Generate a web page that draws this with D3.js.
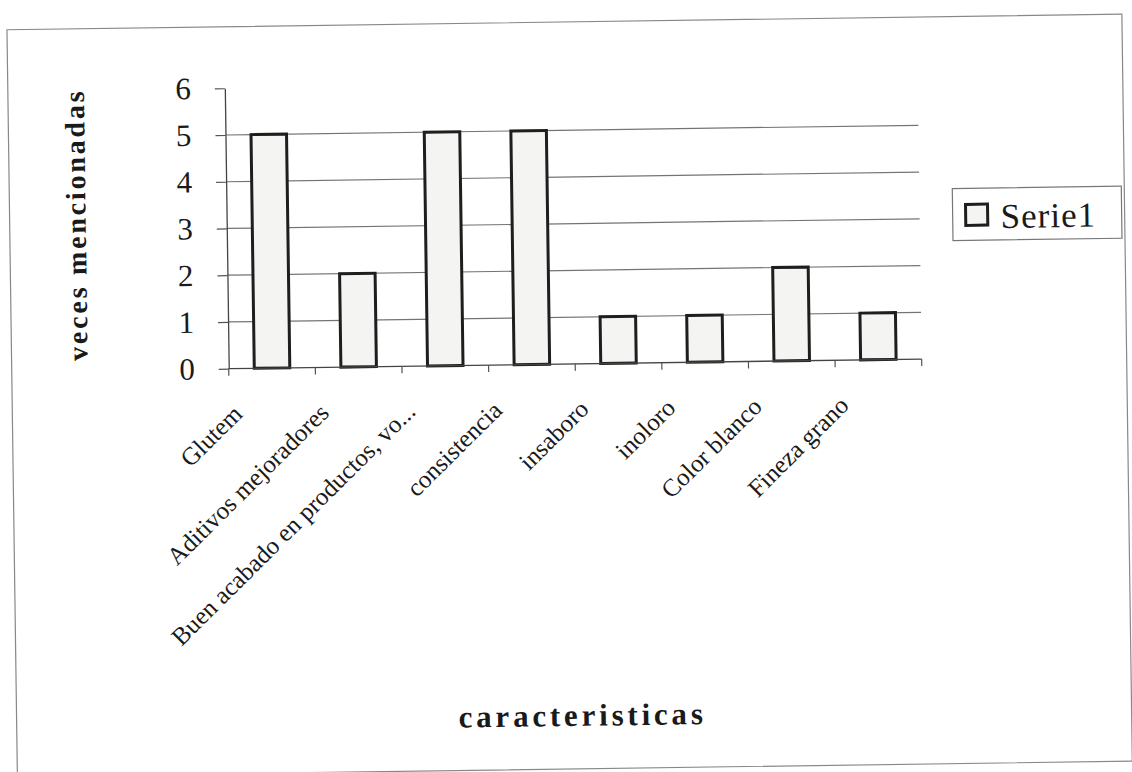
<!DOCTYPE html>
<html>
<head>
<meta charset="utf-8">
<script src="https://cdn.jsdelivr.net/npm/d3@7"></script>
<style>
  html, body { margin: 0; padding: 0; background: #ffffff; }
  svg { display: block; }
  text { font-family: "Liberation Serif", "Times New Roman", serif; fill: #1a1a1a; }
</style>
</head>
<body>
<svg id="chart" width="1132" height="772"></svg>
<script>
const categories = ["Glutem", "Aditivos mejoradores", "Buen acabado en productos, vo...", "consistencia", "insaboro", "inoloro", "Color blanco", "Fineza grano"];
const serie1 = [5, 2, 5, 5, 1, 1, 2, 1];
const yTicks = [0, 1, 2, 3, 4, 5, 6];
const gridValues = [1, 2, 3, 4, 5];
const seriesName = "Serie1";
const yTitle = "veces mencionadas";
const xTitle = "caracteristicas";

(function () {
const svg = d3.select("#chart");
const W = 1132, H = 772;
svg.append("rect").attr("width", W).attr("height", H).attr("fill", "#ffffff");

// whole page slightly rotated, like the scanned original
const root = svg.append("g").attr("transform", "rotate(-0.8, 566, 386)");

// outer border
root.append("rect")
  .attr("x", 12).attr("y", 22).attr("width", 1115).attr("height", 747)
  .attr("fill", "none").attr("stroke", "#888").attr("stroke-width", 1.2);

const pLeft = 229, pRight = 922, pTop = 83.5, pBottom = 364;

const x = d3.scaleBand().domain(categories).range([pLeft, pRight]).padding(0);
const y = d3.scaleLinear().domain([0, 6]).range([pBottom, pTop]);

// gridlines
root.append("g").selectAll("line").data(gridValues).join("line")
  .attr("x1", pLeft).attr("x2", pRight)
  .attr("y1", d => y(d)).attr("y2", d => y(d))
  .attr("stroke", "#747474").attr("stroke-width", 1.2);

// y axis
const yAxis = d3.axisLeft(y).tickValues(yTicks).tickSize(10).tickSizeOuter(0).tickPadding(24).tickFormat(d3.format("d"));
const gy = root.append("g").attr("transform", `translate(${pLeft},0)`).call(yAxis);
gy.select(".domain").attr("stroke", "#444").attr("stroke-width", 1.3);
gy.selectAll(".tick line").attr("stroke", "#555").attr("stroke-width", 1.2);
gy.selectAll(".tick text")
  .style("font-family", '"Liberation Serif", serif')
  .style("font-size", "31px").attr("fill", "#1a1a1a");

// bars
const bw = x.bandwidth() * 0.41;
root.append("g").selectAll("rect").data(serie1).join("rect")
  .attr("x", (d, i) => x(categories[i]) + x.bandwidth() / 2 - bw / 2)
  .attr("y", d => y(d))
  .attr("width", bw)
  .attr("height", d => y(0) - y(d))
  .attr("fill", "#f4f4f2")
  .attr("stroke", "#1e1e1e")
  .attr("stroke-width", 3);

// x axis line and boundary ticks
root.append("line")
  .attr("x1", pLeft).attr("x2", pRight).attr("y1", y(0)).attr("y2", y(0))
  .attr("stroke", "#444").attr("stroke-width", 1.3);
const bounds = categories.map(c => x(c)).concat([x.range()[1]]);
root.append("g").selectAll("line").data(bounds).join("line")
  .attr("x1", d => d).attr("x2", d => d)
  .attr("y1", y(0)).attr("y2", y(0) + 7)
  .attr("stroke", "#555").attr("stroke-width", 1.2);

// category labels
root.append("g").selectAll("text").data(categories).join("text")
  .attr("transform", c => `translate(${x(c) + x.bandwidth() / 2 - 29},${y(0) + 47}) rotate(-44)`)
  .attr("text-anchor", "end")
  .style("font-size", "25px")
  .text(c => c);

// y title
root.append("text")
  .attr("transform", "translate(88,218) rotate(-90)")
  .attr("text-anchor", "middle")
  .style("font-size", "28px").style("font-weight", "bold")
  .style("letter-spacing", "2.8px")
  .text(yTitle);

// x title
root.append("text")
  .attr("x", 578).attr("y", 726)
  .attr("text-anchor", "middle")
  .style("font-size", "31px").style("font-weight", "bold")
  .style("letter-spacing", "3.8px")
  .text(xTitle);

// legend
const lg = root.append("g");
lg.append("rect")
  .attr("x", 955).attr("y", 194).attr("width", 169).attr("height", 52)
  .attr("fill", "#ffffff").attr("stroke", "#777").attr("stroke-width", 1.2);
lg.append("rect")
  .attr("x", 968).attr("y", 210).attr("width", 22).attr("height", 21)
  .attr("fill", "#f4f4f2").attr("stroke", "#1e1e1e").attr("stroke-width", 3);
lg.append("text")
  .attr("x", 1003).attr("y", 234)
  .style("font-size", "35px")
  .style("letter-spacing", "1px")
  .text(seriesName);
})();
</script>
</body>
</html>
